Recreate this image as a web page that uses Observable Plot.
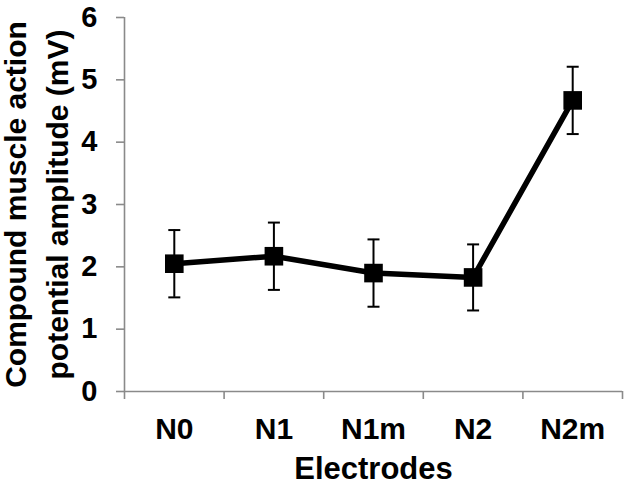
<!DOCTYPE html>
<html>
<head>
<meta charset="utf-8">
<script src="https://cdn.jsdelivr.net/npm/d3@7"></script>
<script src="https://cdn.jsdelivr.net/npm/@observablehq/plot@0.6"></script>
<style>
  html, body { margin: 0; padding: 0; background: #fff; }
  #chart svg { display: block; }
</style>
</head>
<body>
<div id="chart"></div>
<script>
// ---- Data ----
const electrodes = ["N0", "N1", "N1m", "N2", "N2m"];
const amplitude = [2.05, 2.17, 1.90, 1.83, 4.67];
const errorBar = [0.54, 0.54, 0.54, 0.53, 0.54];
const yTicks = [0, 1, 2, 3, 4, 5, 6];
const yTitleLines = ["Compound muscle action", "potential amplitude (mV)"];
const xTitle = "Electrodes";

const rows = electrodes.map((e, i) => ({
  electrode: e,
  pos: i + 0.5,
  value: amplitude[i],
  lo: amplitude[i] - errorBar[i],
  hi: amplitude[i] + errorBar[i]
}));
const bandEdges = d3.range(electrodes.length + 1);
const bandCenters = rows.map(d => d.pos);

const grey = "#8a8a8a";
const font = "'Liberation Sans', Arial, Helvetica, sans-serif";
const capSymbol = { draw(ctx) { ctx.moveTo(-6, 0); ctx.lineTo(6, 0); } };

const chart = Plot.plot({
  width: 630,
  height: 496,
  marginLeft: 124,
  marginRight: 8,
  marginTop: 17,
  marginBottom: 105,
  style: { fontFamily: font, background: "#fff" },
  x: { type: "linear", domain: [0, electrodes.length], label: null },
  y: { domain: [0, 6], label: null },
  marks: [
    // axis lines
    Plot.ruleX([0], { stroke: grey, strokeWidth: 1.6 }),
    Plot.ruleY([0], { stroke: grey, strokeWidth: 1.6 }),
    // y ticks and labels
    Plot.axisY({ ticks: yTicks, tickSize: 8, tickFormat: () => "", stroke: grey, strokeWidth: 1.6, label: null }),
    Plot.axisY({ ticks: yTicks, tickSize: 0, tickPadding: 27, tickFormat: d3.format("d"),
      fontSize: 29, fontWeight: "bold", fill: "#000", label: null }),
    // x ticks (at band edges) and labels (at band centres)
    Plot.axisX({ ticks: bandEdges, tickSize: 8, tickFormat: () => "", stroke: grey, strokeWidth: 1.6, label: null }),
    Plot.axisX({ ticks: bandCenters, tickSize: 0, tickPadding: 26,
      tickFormat: d => electrodes[Math.floor(d)], fontSize: 30, fontWeight: "bold", fill: "#000", label: null }),
    // error bars
    Plot.ruleX(rows, { x: "pos", y1: "lo", y2: "hi", stroke: "#000", strokeWidth: 2 }),
    Plot.dot(rows, { x: "pos", y: "lo", symbol: capSymbol, stroke: "#000", strokeWidth: 2, fill: "none" }),
    Plot.dot(rows, { x: "pos", y: "hi", symbol: capSymbol, stroke: "#000", strokeWidth: 2, fill: "none" }),
    // line and markers
    Plot.line(rows, { x: "pos", y: "value", stroke: "#000", strokeWidth: 5.5 }),
    Plot.dot(rows, { x: "pos", y: "value", symbol: "square", r: 10.5, fill: "#000", stroke: "none" }),
    // axis titles
    Plot.text([xTitle], { frameAnchor: "bottom", lineAnchor: "top", textAnchor: "middle", dy: 65,
      fontSize: 31, fontWeight: "bold", fill: "#000" }),
    Plot.text([yTitleLines[0]], { frameAnchor: "left", lineAnchor: "top", textAnchor: "middle", rotate: -90, dx: -120,
      fontSize: 30, fontWeight: "bold", fill: "#000" }),
    Plot.text([yTitleLines[1]], { frameAnchor: "left", lineAnchor: "top", textAnchor: "middle", rotate: -90, dx: -78,
      fontSize: 30, fontWeight: "bold", fill: "#000" })
  ]
});
document.getElementById("chart").appendChild(chart);
</script>
</body>
</html>
